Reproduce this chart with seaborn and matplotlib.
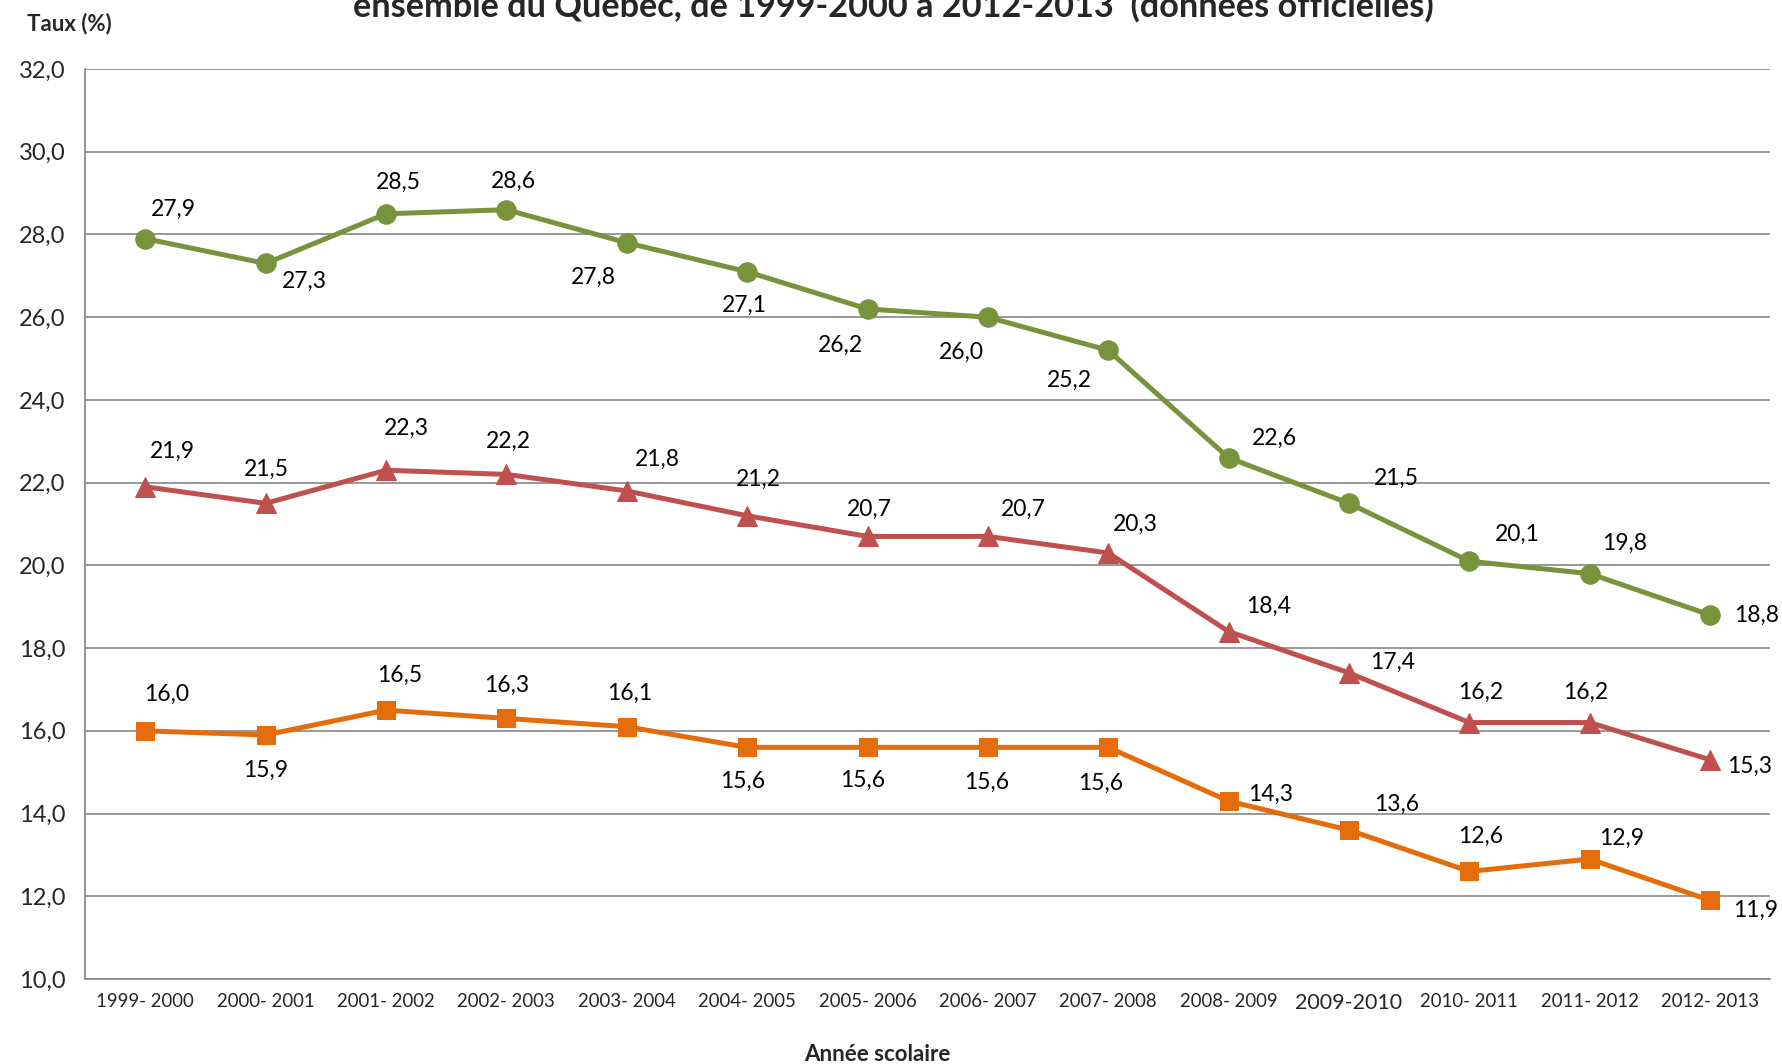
import numpy as np
import pandas as pd
import matplotlib
matplotlib.use("Agg")
import matplotlib.pyplot as plt
import seaborn as sns
from matplotlib.ticker import FuncFormatter, MultipleLocator

# datos
annees = ["1999- 2000", "2000- 2001", "2001- 2002", "2002- 2003", "2003- 2004",
          "2004- 2005", "2005- 2006", "2006- 2007", "2007- 2008", "2008- 2009",
          "2009-2010", "2010- 2011", "2011- 2012", "2012- 2013"]
taux_vert = [27.9, 27.3, 28.5, 28.6, 27.8, 27.1, 26.2, 26.0, 25.2, 22.6, 21.5, 20.1, 19.8, 18.8]
taux_rouge = [21.9, 21.5, 22.3, 22.2, 21.8, 21.2, 20.7, 20.7, 20.3, 18.4, 17.4, 16.2, 16.2, 15.3]
taux_orange = [16.0, 15.9, 16.5, 16.3, 16.1, 15.6, 15.6, 15.6, 15.6, 14.3, 13.6, 12.6, 12.9, 11.9]

# placement des étiquettes (décalage en px de l'image réduite)
pos_vert = [(25, -26), (34, 16), (11, -28), (6, -25), (-29, 30), (-2, 30), (-24, 32),
            (-23, 31), (-34, 26), (40, -17), (42, -22), (42, -24), (31, -27), (41, 0)]
pos_rouge = [(24, -31), (1, -30), (18, -37), (2, -29), (27, -28), (10, -32), (2, -24),
             (31, -24), (24, -25), (35, -22), (38, -9), (10, -27), (-4, -27), (35, 6)]
pos_orange = [(19, -32), (0, 31), (12, -31), (0, -29), (3, -29), (-4, 30), (-4, 29),
              (-1, 31), (-7, 32), (37, -6), (42, -23), (10, -31), (28, -18), (40, 9)]

sns.set_style("white")
plt.rcParams["font.family"] = ["Lato", "DejaVu Sans"]

fig = plt.figure(figsize=(17.83, 10.64), dpi=100)
ax = fig.add_axes([0.0477, 0.0799, 0.9452, 0.8552])

x = np.arange(len(annees))
series = [
    (taux_vert, "#77933C", "o", 14, pos_vert),
    (taux_rouge, "#C0504D", "^", 14, pos_rouge),
    (taux_orange, "#E46C0A", "s", 13, pos_orange),
]
escala = 1783 / 1568
for valores, color, marca, tam, pos in series:
    sns.lineplot(x=x, y=valores, color=color, marker=marca, markersize=tam,
                 markeredgecolor=color, linewidth=3.6, ax=ax, zorder=3)
    for xi, v, (dx, dy) in zip(x, valores, pos):
        ax.annotate(f"{v:.1f}".replace(".", ","), (xi, v),
                    xytext=(dx * escala, -dy * escala), textcoords="offset pixels",
                    ha="center", va="center", fontsize=16.5, color="black", zorder=4)

ax.set_ylim(10, 32)
ax.set_xlim(-0.5, 13.5)
ax.yaxis.set_major_locator(MultipleLocator(2))
ax.yaxis.set_major_formatter(FuncFormatter(lambda v, _: f"{v:.1f}".replace(".", ",")))
ax.grid(axis="y", color="#868686", linewidth=1.2)
ax.set_axisbelow(True)

ax.set_xticks(x)
ax.set_xticklabels(annees)
for i, t in enumerate(ax.get_xticklabels()):
    t.set_fontsize(15.5 if annees[i] == "2009-2010" else 13.4)
ax.set_xticks(np.arange(-0.5, 14, 1), minor=True)
ax.tick_params(axis="x", which="major", length=0, pad=10)
ax.tick_params(axis="x", which="minor", length=6, color="#868686", width=1.2)
ax.tick_params(axis="y", length=6, color="#868686", width=1.2, labelsize=17, pad=8)

for lado in ["top", "right"]:
    ax.spines[lado].set_visible(False)
for lado in ["left", "bottom"]:
    ax.spines[lado].set_color("#868686")
    ax.spines[lado].set_linewidth(1.2)

ax.set_xlabel("")
ax.set_ylabel("")
fig.text(0.0151, 0.978, "Taux (%)", fontsize=16, fontweight="bold", ha="left", va="center")
fig.text(0.492, 0.009, "Année scolaire", fontsize=16, fontweight="bold", ha="center", va="center")
fig.text(0.501, 0.984, "ensemble du Québec, de 1999-2000 à 2012-2013  (données officielles)",
         fontsize=24.7, fontweight="bold", ha="center", va="baseline")

fig.savefig("out.png", dpi=100)
